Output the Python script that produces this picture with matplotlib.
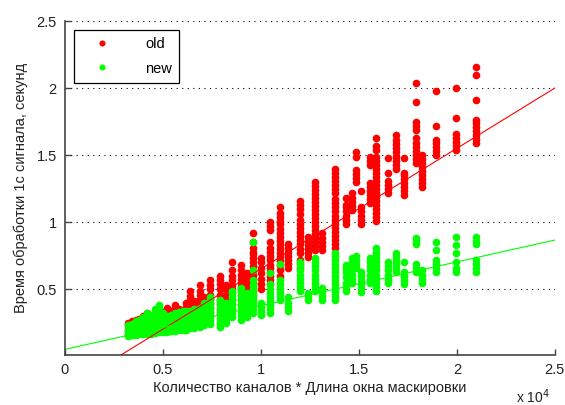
import matplotlib
matplotlib.use("Agg")
import matplotlib.pyplot as plt
from matplotlib.ticker import FuncFormatter

plt.rcParams['font.family'] = ['Liberation Sans', 'DejaVu Sans']

# column positions (channels * window length) and measured times, seconds
col_x = [3200, 3400, 3600, 3800, 4000, 4200, 4400, 4600, 4800, 5000,
         5200, 5400, 5600, 5800, 6000, 6200, 6400, 6600, 6900, 7100,
         7400, 7900, 8200, 8500, 9000, 9300, 9600, 10000, 10460, 10970,
         11380, 12000, 12400, 12760, 13100, 13780, 14340, 14640, 14850, 15100,
         15560, 15870, 16480, 16880, 17300, 17900, 18200, 18930, 19950, 20970]

old_y = [
    [0.17, 0.20, 0.23, 0.245],
    [0.18, 0.21, 0.24, 0.26],
    [0.18, 0.21, 0.24, 0.27],
    [0.19, 0.22, 0.25, 0.28],
    [0.19, 0.22, 0.25, 0.28, 0.30],
    [0.20, 0.23, 0.26, 0.29, 0.32],
    [0.20, 0.23, 0.26, 0.29],
    [0.21, 0.24, 0.27, 0.30, 0.31],
    [0.21, 0.24, 0.27, 0.30],
    [0.22, 0.25, 0.28, 0.31, 0.33],
    [0.22, 0.25, 0.28, 0.31, 0.34, 0.36],
    [0.23, 0.26, 0.29, 0.32, 0.34],
    [0.23, 0.26, 0.29, 0.32, 0.35, 0.38],
    [0.24, 0.27, 0.30, 0.33, 0.35],
    [0.24, 0.27, 0.30, 0.33, 0.34],
    [0.25, 0.28, 0.31, 0.34, 0.37, 0.40],
    [0.27, 0.30, 0.33, 0.36, 0.39, 0.42, 0.45, 0.49],
    [0.27, 0.30, 0.33, 0.36, 0.39, 0.41],
    [0.28, 0.31, 0.34, 0.37, 0.40, 0.43, 0.46, 0.49, 0.53],
    [0.29, 0.32, 0.35, 0.38, 0.41, 0.44],
    [0.30, 0.33, 0.36, 0.40, 0.43, 0.46, 0.50, 0.53, 0.57],
    [0.32, 0.35, 0.39, 0.42, 0.46, 0.50, 0.54, 0.57, 0.60],
    [0.34, 0.37, 0.40, 0.43, 0.46, 0.50, 0.53],
    [0.35, 0.39, 0.43, 0.47, 0.50, 0.53, 0.57, 0.60, 0.64, 0.70],
    [0.38, 0.42, 0.46, 0.49, 0.52, 0.55, 0.58, 0.61, 0.64, 0.68],
    [0.40, 0.43, 0.46, 0.49, 0.52, 0.55, 0.58, 0.62],
    [0.42, 0.46, 0.49, 0.52, 0.55, 0.58, 0.61, 0.64, 0.67, 0.70, 0.73, 0.76,
     0.78, 0.81, 0.85, 0.92],
    [0.50, 0.54, 0.58, 0.62, 0.66, 0.70, 0.73],
    [0.54, 0.57, 0.60, 0.63, 0.66, 0.68, 0.72, 0.75, 0.78, 0.81, 0.85, 0.94,
     0.97, 1.00],
    [0.60, 0.64, 0.68, 0.71, 0.74, 0.77, 0.80, 0.83, 0.86, 0.89, 0.92, 0.95,
     0.99, 1.01, 1.04, 1.07, 1.11],
    [0.66, 0.69, 0.72, 0.75, 0.78, 0.81, 0.84],
    [0.66, 0.69, 0.72, 0.77, 0.80, 0.84, 0.87, 0.90, 0.93, 0.96, 0.99, 1.02,
     1.06, 1.10, 1.13, 1.16],
    [0.74, 0.77, 0.80, 0.83, 0.86, 0.89],
    [0.79, 0.82, 0.85, 0.88, 0.91, 0.94, 0.97, 1.00, 1.03, 1.06, 1.09, 1.12,
     1.15, 1.18, 1.21, 1.24, 1.27, 1.30],
    [0.79, 0.82, 0.85, 0.88, 0.92],
    [0.81, 0.84, 0.87, 0.90, 0.93, 0.96, 0.99, 1.02, 1.05, 1.08, 1.11, 1.14,
     1.17, 1.22, 1.25, 1.28, 1.31, 1.34, 1.37, 1.40],
    [0.99, 1.02, 1.05, 1.08, 1.11, 1.13, 1.18],
    [1.09, 1.12, 1.15, 1.18, 1.22],
    [1.30, 1.33, 1.36, 1.39, 1.49, 1.52],
    [0.99, 1.02, 1.05, 1.08, 1.11, 1.23],
    [1.14, 1.17, 1.20, 1.23, 1.26, 1.29, 1.43, 1.46, 1.49],
    [1.01, 1.04, 1.07, 1.10, 1.13, 1.16, 1.19, 1.22, 1.25, 1.28, 1.31, 1.34,
     1.37, 1.40, 1.43, 1.46, 1.49, 1.54, 1.57, 1.63],
    [1.22, 1.25, 1.28, 1.31, 1.37, 1.48],
    [1.40, 1.43, 1.46, 1.49, 1.52, 1.55, 1.58, 1.61, 1.65],
    [1.20, 1.23, 1.26, 1.29, 1.32, 1.35, 1.37, 1.48],
    [1.44, 1.47, 1.50, 1.53, 1.56, 1.59, 1.63, 1.69, 1.72, 1.75, 1.90, 2.035],
    [1.26, 1.29, 1.32, 1.35, 1.38, 1.41, 1.44, 1.47, 1.50],
    [1.50, 1.53, 1.56, 1.59, 1.61, 1.72, 1.98],
    [1.54, 1.57, 1.60, 1.63, 1.66, 1.78, 2.00],
    [1.59, 1.62, 1.65, 1.68, 1.71, 1.74, 1.76, 1.91, 2.10, 2.16],
]

new_y = [
    [0.155, 0.18, 0.20, 0.23],
    [0.16, 0.18, 0.21, 0.24],
    [0.16, 0.19, 0.22, 0.25, 0.26],
    [0.165, 0.19, 0.22, 0.25, 0.27],
    [0.17, 0.20, 0.23, 0.26, 0.29],
    [0.17, 0.20, 0.23, 0.26, 0.29, 0.32],
    [0.17, 0.20, 0.23, 0.26, 0.29, 0.31],
    [0.175, 0.20, 0.23, 0.26, 0.29, 0.32, 0.35],
    [0.18, 0.21, 0.24, 0.27, 0.30, 0.33, 0.36, 0.38],
    [0.18, 0.21, 0.24, 0.27, 0.30, 0.32],
    [0.185, 0.21, 0.24, 0.27, 0.30],
    [0.19, 0.22, 0.25, 0.28, 0.31],
    [0.19, 0.22, 0.25, 0.28, 0.31, 0.32],
    [0.195, 0.22, 0.25, 0.28, 0.31, 0.33],
    [0.20, 0.23, 0.26, 0.29, 0.32, 0.34],
    [0.20, 0.23, 0.26, 0.29, 0.32, 0.34],
    [0.21, 0.24, 0.27, 0.30, 0.33, 0.34],
    [0.21, 0.24, 0.27, 0.30, 0.33, 0.35],
    [0.22, 0.25, 0.28, 0.31, 0.34, 0.36],
    [0.23, 0.26, 0.29, 0.32, 0.35, 0.38, 0.40],
    [0.24, 0.27, 0.30, 0.33, 0.36, 0.39, 0.42, 0.44],
    [0.22, 0.25, 0.28, 0.31, 0.34, 0.37, 0.40, 0.42],
    [0.25, 0.28, 0.31, 0.34, 0.37, 0.40],
    [0.29, 0.32, 0.35, 0.38, 0.41, 0.44, 0.47, 0.49],
    [0.27, 0.30, 0.33, 0.36, 0.39, 0.42, 0.45, 0.48, 0.51],
    [0.29, 0.32, 0.35, 0.38, 0.41, 0.44, 0.47],
    [0.32, 0.35, 0.38, 0.41, 0.44, 0.47, 0.50, 0.53, 0.57, 0.64, 0.85],
    [0.31, 0.34, 0.37, 0.40],
    [0.32, 0.35, 0.38, 0.41, 0.44, 0.47, 0.50, 0.54, 0.62],
    [0.42, 0.45, 0.48, 0.51, 0.54, 0.57, 0.69],
    [0.34, 0.37, 0.40, 0.44],
    [0.49, 0.52, 0.55, 0.58, 0.61, 0.64, 0.67, 0.70],
    [0.42, 0.45, 0.47],
    [0.49, 0.52, 0.55, 0.58, 0.61, 0.64, 0.67, 0.70, 0.73],
    [0.42, 0.45, 0.48, 0.51],
    [0.42, 0.45, 0.48, 0.51, 0.54, 0.57, 0.60, 0.63, 0.66, 0.69, 0.72, 0.75,
     0.77],
    [0.49, 0.52, 0.55, 0.59, 0.63, 0.66, 0.68],
    [0.55, 0.58, 0.61, 0.64, 0.67, 0.70, 0.73],
    [0.66, 0.69, 0.72, 0.75],
    [0.48, 0.51, 0.54, 0.57, 0.60, 0.63],
    [0.55, 0.58, 0.61, 0.64, 0.67, 0.70, 0.73],
    [0.49, 0.52, 0.55, 0.58, 0.61, 0.64, 0.67, 0.70, 0.73, 0.76, 0.78, 0.81],
    [0.55, 0.58, 0.61, 0.64, 0.67, 0.70],
    [0.63, 0.66, 0.69, 0.72, 0.75, 0.77],
    [0.54, 0.57, 0.60, 0.63, 0.70],
    [0.63, 0.66, 0.69, 0.84, 0.86, 0.88],
    [0.55, 0.58, 0.61, 0.64],
    [0.63, 0.66, 0.69, 0.72, 0.79, 0.85],
    [0.63, 0.66, 0.70, 0.77, 0.83, 0.89],
    [0.63, 0.66, 0.69, 0.72, 0.84, 0.86, 0.89],
]

# linear fits (slope, intercept) as drawn
old_fit = (8.99e-5, -0.247)
new_fit = (3.26e-5, 0.052)

x_ticks = [0, 5000, 10000, 15000, 20000, 25000]
y_ticks = [0.5, 1, 1.5, 2, 2.5]


def flatten(cols):
    xs, ys = [], []
    for x, col in zip(col_x, cols):
        xs += [x] * len(col)
        ys += col
    return xs, ys


fig = plt.figure(figsize=(5.65, 4.05), dpi=100)
ax = fig.add_axes([0.115, 0.1235, 0.867, 0.8245])

ox, oy = flatten(old_y)
nx, ny = flatten(new_y)
ax.plot(ox, oy, 'o', color='#ff0000', markersize=5.5, markeredgewidth=0,
        label='old')
ax.plot(nx, ny, 'o', color='#00ff00', markersize=5.5, markeredgewidth=0,
        label='new')

line_x = [0, 25000]
ax.plot(line_x, [old_fit[0] * v + old_fit[1] for v in line_x],
        color='#ff0000', lw=0.8)
ax.plot(line_x, [new_fit[0] * v + new_fit[1] for v in line_x],
        color='#00ff00', lw=0.8)

ax.set_xlim(0, 25000)
ax.set_ylim(0.01, 2.5)
ax.set_xticks(x_ticks)
ax.set_yticks(y_ticks)
ax.xaxis.set_major_formatter(FuncFormatter(lambda v, p: '%g' % (v / 1e4)))
ax.yaxis.set_major_formatter(FuncFormatter(lambda v, p: '%g' % v))
ax.yaxis.grid(True, linestyle=(0, (1, 4)), color='black', lw=0.8)
ax.set_axisbelow(True)

for side in ['top', 'right']:
    ax.spines[side].set_visible(False)
for side in ['left', 'bottom']:
    ax.spines[side].set_color('#444444')
    ax.spines[side].set_linewidth(1.2)
ax.tick_params(direction='in', length=4, width=1, color='#444444',
               labelsize=10.5, labelcolor='#222222', pad=6)

ax.set_xlabel('Количество каналов * Длина окна маскировки', fontsize=10.5,
              color='#222222', labelpad=3)
ax.set_ylabel('Время обработки 1с сигнала, секунд', fontsize=10.5,
              color='#222222', labelpad=6)
fig.text(0.913, 0.005, 'x 10$^4$', fontsize=10, color='#222222')

leg = ax.legend(loc='upper left', bbox_to_anchor=(0.018, 0.973),
                borderaxespad=0, fancybox=False, edgecolor='black',
                fontsize=10.5, handlelength=2.9, handletextpad=1.5,
                borderpad=0.5, labelspacing=0.7, framealpha=1,
                markerscale=0.8)
leg.get_frame().set_linewidth(0.9)

fig.savefig('out.png', dpi=100)
